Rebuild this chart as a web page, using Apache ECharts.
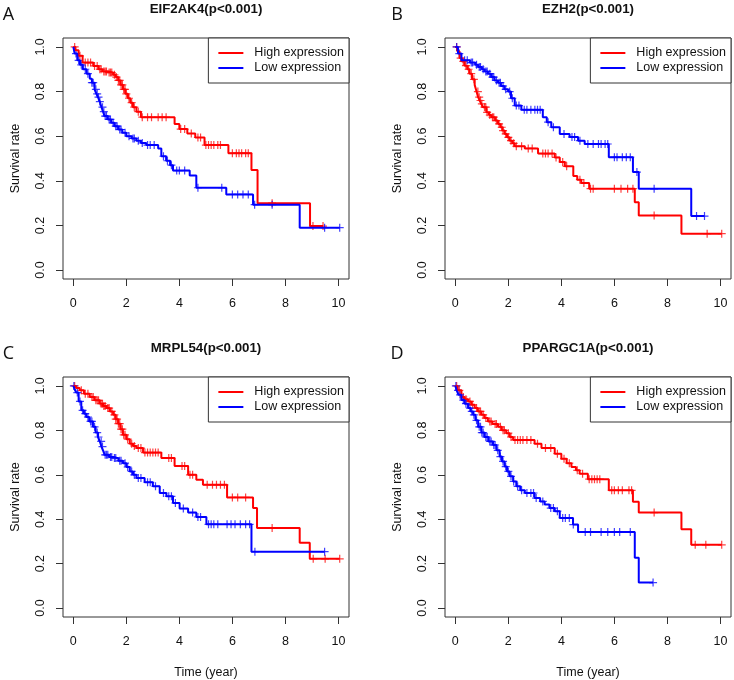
<!DOCTYPE html>
<html><head><meta charset="utf-8">
<script src="https://cdn.jsdelivr.net/npm/echarts@6/dist/echarts.min.js"></script>
<style>html,body{margin:0;padding:0;background:#fff}#c{width:734px;height:680px}</style>
</head><body><div id="c"></div>
<script>
const xTicks = [0, 2, 4, 6, 8, 10];
const yTicks = [0, 0.2, 0.4, 0.6, 0.8, 1.0];
const groups = ['High expression', 'Low expression'];
const titles = ['EIF2AK4(p<0.001)', 'EZH2(p<0.001)', 'MRPL54(p<0.001)', 'PPARGC1A(p<0.001)'];
const letters = ['A', 'B', 'C', 'D'];

// Panel A: EIF2AK4
const aHighT = [0, 0.08, 0.2, 0.35, 0.75, 0.95, 1.1, 1.3, 1.5, 1.6, 1.69, 1.78, 1.87, 1.96, 2.06, 2.15, 2.25, 2.38, 2.55, 3.82, 4.0, 4.3, 4.6, 4.95, 5.85, 6.72, 6.95, 8.93];
const aHighS = [1.0, 0.985, 0.96, 0.93, 0.915, 0.9, 0.89, 0.885, 0.875, 0.865, 0.85, 0.83, 0.81, 0.79, 0.77, 0.75, 0.73, 0.71, 0.685, 0.655, 0.632, 0.612, 0.594, 0.56, 0.524, 0.448, 0.30, 0.197];
const aHighC = [0.05, 0.25, 0.45, 0.55, 0.65, 0.8, 0.9, 1.0, 1.05, 1.15, 1.2, 1.25, 1.35, 1.4, 1.45, 1.55, 1.62, 1.7, 1.75, 1.8, 1.85, 1.9, 1.95, 2.0, 2.1, 2.2, 2.3, 2.45, 2.6, 2.8, 2.95, 3.2, 3.35, 3.5, 4.05, 4.2, 4.45, 4.7, 4.8, 5.0, 5.1, 5.2, 5.3, 5.45, 5.55, 6.0, 6.15, 6.25, 6.35, 6.5, 6.6, 7.5, 9.04, 9.42];
const aLowT = [0, 0.05, 0.15, 0.25, 0.36, 0.5, 0.62, 0.7, 0.8, 0.87, 0.93, 1.0, 1.06, 1.12, 1.18, 1.3, 1.43, 1.55, 1.69, 1.85, 2.0, 2.2, 2.38, 2.55, 2.75, 3.2, 3.32, 3.5, 3.65, 3.76, 4.39, 4.64, 5.77, 6.78, 8.54];
const aLowS = [1.0, 0.97, 0.94, 0.92, 0.90, 0.88, 0.857, 0.84, 0.81, 0.79, 0.775, 0.755, 0.73, 0.71, 0.69, 0.675, 0.66, 0.645, 0.63, 0.615, 0.60, 0.59, 0.58, 0.57, 0.56, 0.545, 0.51, 0.49, 0.47, 0.446, 0.424, 0.369, 0.339, 0.293, 0.19];
const aLowC = [0.1, 0.2, 0.3, 0.45, 0.55, 0.7, 0.75, 0.85, 0.9, 0.95, 1.0, 1.1, 1.15, 1.2, 1.25, 1.35, 1.4, 1.5, 1.6, 1.65, 1.75, 1.8, 1.95, 2.1, 2.25, 2.3, 2.45, 2.6, 2.8, 2.9, 3.05, 3.4, 3.55, 3.7, 3.9, 4.0, 4.2, 4.7, 5.6, 6.0, 6.2, 6.4, 6.6, 6.84, 7.5, 9.48, 10.05];

// Panel B: EZH2
const bHighT = [0, 0.08, 0.16, 0.25, 0.35, 0.45, 0.54, 0.63, 0.73, 0.8, 0.86, 0.92, 0.98, 1.05, 1.17, 1.27, 1.36, 1.5, 1.61, 1.7, 1.78, 1.86, 1.95, 2.05, 2.15, 2.24, 2.62, 3.12, 3.75, 3.94, 4.13, 4.45, 4.6, 4.75, 5.05, 6.77, 6.92, 8.53];
const bHighS = [1.0, 0.98, 0.95, 0.935, 0.916, 0.9, 0.88, 0.855, 0.83, 0.80, 0.775, 0.76, 0.745, 0.73, 0.707, 0.695, 0.685, 0.67, 0.655, 0.64, 0.625, 0.61, 0.595, 0.58, 0.568, 0.555, 0.545, 0.522, 0.505, 0.484, 0.465, 0.422, 0.405, 0.39, 0.365, 0.304, 0.245, 0.163];
const bHighC = [0.05, 0.2, 0.3, 0.4, 0.5, 0.6, 0.7, 0.85, 0.9, 0.95, 1.0, 1.1, 1.15, 1.2, 1.3, 1.4, 1.45, 1.55, 1.65, 1.75, 1.8, 1.9, 2.0, 2.1, 2.2, 2.3, 2.5, 2.75, 2.9, 3.3, 3.4, 3.5, 3.65, 3.8, 4.05, 4.2, 4.7, 4.85, 5.1, 5.2, 6.0, 6.25, 6.5, 6.7, 7.5, 9.5, 10.05];
const bLowT = [0, 0.1, 0.23, 0.55, 0.75, 0.86, 1.0, 1.1, 1.23, 1.35, 1.48, 1.61, 1.72, 1.85, 1.99, 2.1, 2.24, 2.49, 3.3, 3.45, 3.62, 3.94, 4.31, 4.63, 4.88, 5.79, 6.7, 6.92, 8.9];
const bLowS = [1.0, 0.97, 0.94, 0.93, 0.92, 0.91, 0.90, 0.89, 0.88, 0.865, 0.85, 0.84, 0.825, 0.81, 0.80, 0.77, 0.737, 0.718, 0.685, 0.663, 0.64, 0.61, 0.596, 0.58, 0.565, 0.506, 0.439, 0.364, 0.242];
const bLowC = [0.05, 0.15, 0.35, 0.45, 0.6, 0.65, 0.8, 0.9, 0.95, 1.05, 1.15, 1.2, 1.3, 1.4, 1.45, 1.55, 1.65, 1.7, 1.8, 1.9, 2.05, 2.15, 2.3, 2.4, 2.6, 2.7, 2.85, 3.0, 3.1, 3.2, 3.5, 3.7, 4.1, 4.4, 4.5, 4.7, 5.0, 5.2, 5.4, 5.5, 5.65, 5.75, 6.0, 6.1, 6.3, 6.45, 6.6, 6.85, 7.5, 9.1, 9.4];

// Panel C: MRPL54
const cHighT = [0, 0.1, 0.24, 0.4, 0.62, 0.8, 1.0, 1.12, 1.25, 1.38, 1.5, 1.6, 1.69, 1.78, 1.87, 2.0, 2.13, 2.25, 2.38, 2.63, 3.32, 3.82, 4.33, 4.64, 4.89, 5.8, 6.78, 6.93, 8.54, 8.92];
const cHighS = [1.0, 0.99, 0.98, 0.965, 0.95, 0.935, 0.92, 0.91, 0.90, 0.885, 0.87, 0.85, 0.83, 0.805, 0.78, 0.76, 0.74, 0.73, 0.72, 0.70, 0.675, 0.64, 0.60, 0.578, 0.555, 0.498, 0.45, 0.361, 0.294, 0.222];
const cHighC = [0.05, 0.3, 0.45, 0.55, 0.7, 0.75, 0.85, 0.9, 0.95, 1.05, 1.1, 1.15, 1.2, 1.3, 1.35, 1.45, 1.55, 1.6, 1.65, 1.7, 1.75, 1.8, 1.85, 1.9, 1.95, 2.05, 2.2, 2.3, 2.45, 2.55, 2.7, 2.8, 2.9, 3.0, 3.1, 3.2, 3.6, 3.7, 4.1, 4.2, 4.4, 4.5, 5.05, 5.25, 5.4, 5.55, 5.7, 6.0, 6.2, 6.5, 7.5, 9.05, 9.5, 10.05];
const cLowT = [0, 0.05, 0.11, 0.2, 0.3, 0.4, 0.49, 0.6, 0.74, 0.84, 0.93, 1.0, 1.06, 1.12, 1.18, 1.35, 1.5, 1.7, 1.87, 2.0, 2.13, 2.25, 2.38, 2.69, 3.0, 3.26, 3.51, 3.76, 4.01, 4.33, 4.64, 5.02, 6.72];
const cLowS = [1.0, 0.985, 0.97, 0.93, 0.89, 0.875, 0.86, 0.84, 0.816, 0.79, 0.77, 0.75, 0.727, 0.71, 0.69, 0.68, 0.675, 0.663, 0.652, 0.635, 0.615, 0.60, 0.585, 0.566, 0.548, 0.518, 0.503, 0.473, 0.448, 0.43, 0.41, 0.377, 0.254];
const cLowC = [0.02, 0.15, 0.25, 0.35, 0.45, 0.55, 0.65, 0.7, 0.8, 0.9, 0.95, 1.05, 1.1, 1.2, 1.25, 1.3, 1.4, 1.45, 1.55, 1.6, 1.75, 1.8, 1.95, 2.05, 2.2, 2.3, 2.45, 2.55, 2.8, 2.9, 3.1, 3.4, 3.6, 3.7, 3.85, 4.15, 4.5, 4.7, 4.8, 5.1, 5.2, 5.3, 5.45, 5.8, 5.95, 6.1, 6.3, 6.5, 6.65, 6.85, 9.48];

// Panel D: PPARGC1A
const dHighT = [0, 0.08, 0.23, 0.35, 0.48, 0.6, 0.73, 0.85, 0.98, 1.1, 1.23, 1.4, 1.61, 1.75, 1.92, 2.05, 2.18, 2.99, 3.25, 3.75, 4.0, 4.2, 4.38, 4.55, 4.69, 5.0, 5.79, 6.7, 6.92, 8.53, 8.9];
const dHighS = [1.0, 0.98, 0.95, 0.94, 0.93, 0.915, 0.90, 0.885, 0.87, 0.855, 0.84, 0.828, 0.816, 0.80, 0.787, 0.77, 0.757, 0.74, 0.72, 0.695, 0.672, 0.652, 0.635, 0.62, 0.605, 0.58, 0.53, 0.479, 0.43, 0.355, 0.285];
const dHighC = [0.05, 0.15, 0.3, 0.4, 0.55, 0.65, 0.8, 0.9, 0.95, 1.05, 1.15, 1.3, 1.35, 1.5, 1.55, 1.7, 1.8, 1.85, 2.0, 2.1, 2.25, 2.35, 2.45, 2.55, 2.7, 2.85, 3.1, 3.4, 3.6, 3.85, 4.1, 4.3, 4.6, 4.8, 5.05, 5.15, 5.25, 5.35, 5.45, 5.9, 6.0, 6.15, 6.3, 6.55, 6.65, 7.5, 9.05, 9.45, 10.05];
const dLowT = [0, 0.05, 0.12, 0.23, 0.35, 0.48, 0.58, 0.67, 0.76, 0.86, 0.98, 1.1, 1.25, 1.42, 1.55, 1.67, 1.76, 1.86, 1.95, 2.05, 2.18, 2.3, 2.45, 2.62, 2.99, 3.2, 3.37, 3.55, 3.75, 3.94, 4.44, 4.63, 6.77, 6.92];
const dLowS = [1.0, 0.98, 0.96, 0.936, 0.92, 0.90, 0.885, 0.87, 0.845, 0.816, 0.79, 0.77, 0.75, 0.734, 0.71, 0.682, 0.66, 0.637, 0.615, 0.593, 0.57, 0.548, 0.53, 0.518, 0.495, 0.48, 0.466, 0.45, 0.436, 0.406, 0.376, 0.343, 0.227, 0.115];
const dLowC = [0.02, 0.1, 0.18, 0.3, 0.4, 0.55, 0.62, 0.7, 0.8, 0.9, 0.95, 1.0, 1.05, 1.15, 1.2, 1.3, 1.35, 1.45, 1.5, 1.6, 1.7, 1.8, 1.9, 2.0, 2.1, 2.2, 2.35, 2.5, 2.7, 2.85, 2.95, 3.05, 3.3, 3.6, 3.7, 3.85, 4.05, 4.15, 4.3, 4.45, 4.9, 5.1, 5.5, 5.75, 6.0, 6.2, 6.6, 7.46];

const panelData = [
  [[aHighT, aHighS, aHighC], [aLowT, aLowS, aLowC]],
  [[bHighT, bHighS, bHighC], [bLowT, bLowS, bLowC]],
  [[cHighT, cHighS, cHighC], [cLowT, cLowS, cLowC]],
  [[dHighT, dHighS, dHighC], [dLowT, dLowS, dLowC]]
];

// ---- layout ----
const FONT = '"Liberation Sans", Arial, sans-serif';
const grids = [
  {left: 63, top: 38}, {left: 445, top: 38},
  {left: 63, top: 377}, {left: 445, top: 377}
];
const GW = 286, GH = 241;
const colors = ['#ff0000', '#0000ff'];
const plusPath = 'path://M3.4,0H4.6V3.4H8V4.6H4.6V8H3.4V4.6H0V3.4H3.4Z';

function stepData(T, S, C) {
  const d = T.map((t, i) => [t, S[i]]);
  const end = Math.max(T[T.length - 1], ...C);
  if (end > T[T.length - 1]) d.push([end, S[S.length - 1]]);
  return d;
}
function censorData(T, S, C) {
  return C.map(c => {
    let idx = 0;
    for (let k = 0; k < T.length; k++) if (T[k] <= c) idx = k;
    return [c, S[idx]];
  });
}

const option = {
  animation: false,
  backgroundColor: '#fff',
  textStyle: {fontFamily: FONT},
  grid: grids.map(g => ({left: g.left, top: g.top, width: GW, height: GH, show: true,
    borderColor: '#333', borderWidth: 1, backgroundColor: 'transparent'})),
  xAxis: grids.map((g, i) => ({
    gridIndex: i, type: 'value', min: -0.39, max: 10.4,
    name: i >= 2 ? 'Time (year)' : '', nameLocation: 'middle', nameGap: 49,
    nameTextStyle: {fontSize: 12.5, color: '#111', fontFamily: FONT},
    splitLine: {show: false},
    axisLine: {show: false, onZero: false},
    axisTick: {show: true, length: 7, customValues: xTicks, lineStyle: {color: '#333'}},
    axisLabel: {customValues: xTicks, margin: 18, fontSize: 12.5, color: '#111', fontFamily: FONT,
      formatter: v => String(v)}
  })),
  yAxis: grids.map((g, i) => ({
    gridIndex: i, type: 'value', min: -0.04, max: 1.04,
    name: 'Survival rate', nameLocation: 'middle', nameGap: 41, nameRotate: 90,
    nameTextStyle: {fontSize: 12.5, color: '#111', fontFamily: FONT},
    splitLine: {show: false},
    axisLine: {show: false, onZero: false},
    axisTick: {show: true, length: 7, customValues: yTicks, lineStyle: {color: '#333'}},
    axisLabel: {customValues: yTicks, margin: 16, rotate: 90, fontSize: 12.5, color: '#111', fontFamily: FONT,
      formatter: v => v.toFixed(1)}
  })),
  legend: grids.map(g => ({
    data: groups, orient: 'vertical', right: 734 - (g.left + GW), top: g.top,
    icon: 'rect', itemWidth: 25, itemHeight: 2, itemGap: 1, padding: [8, 5, 8, 10],
    borderColor: '#333', borderWidth: 1, backgroundColor: '#fff', borderRadius: 0,
    selectedMode: false,
    textStyle: {fontSize: 12.5, lineHeight: 14, color: '#111', fontFamily: FONT, padding: [0, 0, 0, 6]}
  })),
  graphic: [],
  series: []
};

grids.forEach((g, i) => {
  option.graphic.push({type: 'text', x: g.left + GW / 2, y: g.top - 29,
    style: {text: titles[i], textAlign: 'center', textVerticalAlign: 'middle',
      font: 'bold 13.3px ' + FONT, fill: '#111'}});
  option.graphic.push({type: 'text', x: g.left === 63 ? 8.5 : 397, y: g.top - 23,
    style: {text: letters[i], textAlign: 'center', textVerticalAlign: 'middle',
      font: '18px "Open Sans", "Noto Sans", sans-serif', fill: '#111'}});
  panelData[i].forEach((grp, j) => {
    const [T, S, C] = grp;
    option.series.push({
      name: groups[j], type: 'line', step: 'end', xAxisIndex: i, yAxisIndex: i,
      data: stepData(T, S, C), symbol: 'none', silent: true,
      lineStyle: {color: colors[j], width: 2}, itemStyle: {color: colors[j]}, z: 3
    });
    option.series.push({
      name: groups[j] + ' censored', type: 'scatter', xAxisIndex: i, yAxisIndex: i,
      data: censorData(T, S, C), symbol: plusPath, symbolSize: 8, silent: true,
      itemStyle: {color: colors[j], opacity: 0.75}, z: 2
    });
  });
});

const chart = echarts.init(document.getElementById('c'), null, {renderer: 'canvas'});
chart.setOption(option);
</script></body></html>
